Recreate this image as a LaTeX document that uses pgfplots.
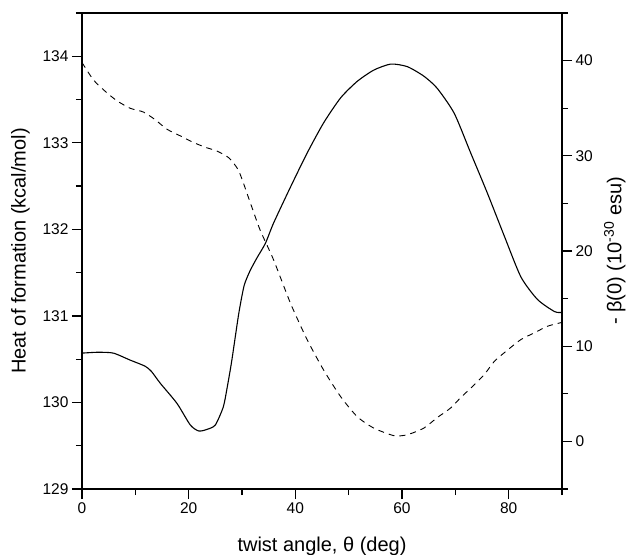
\documentclass[border=0pt]{standalone}
\usepackage{fontspec}
\setmainfont{Liberation Sans}
\usepackage{pgfplots}
\pgfplotsset{compat=1.18}

\pgfplotsset{
  twist/.style={
    scale only axis, width=480pt, height=476pt,
    xmin=0, xmax=90,
    tick align=outside,
    major tick length=10pt, minor tick length=6pt,
    every tick/.style={line width=1.3pt, black},
    axis line style={line width=1.5pt},
    tick label style={font=\fontsize{15.5}{18}\selectfont},
    label style={font=\fontsize{20}{24}\selectfont},
    /pgf/number format/assume math mode=true,
  }
}

\begin{document}
\begin{tikzpicture}
\begin{axis}[
  twist,
  ymin=129, ymax=134.5,
  xtick={0,20,...,80}, minor xtick={10,30,...,90},
  ytick={129,...,134}, minor ytick={129.5,130.5,...,134.5},
  xtick pos=bottom, ytick pos=left,
  yticklabel style={/pgf/number format/.cd, fixed, precision=0},
  xlabel={twist angle, θ (deg)},
  ylabel={Heat of formation (kcal/mol)},
  xlabel style={at={(axis description cs:0.5,-0.12)}, anchor=center},
  ylabel style={at={(axis description cs:-0.128,0.5)}, anchor=center},
]
\addplot[black, line width=1.1pt, smooth, tension=0.4] coordinates {
 (0,130.57)(3,130.58)(5.9,130.57)(9.0,130.49)(11.8,130.42)(13,130.36)
 (14.7,130.22)(17.8,129.99)(20.3,129.74)(21.9,129.67)(23.5,129.69)
 (25.0,129.74)(26.5,129.95)(27.3,130.2)(28.1,130.49)(29.4,131.03)
 (30.4,131.35)(31.5,131.52)(32.8,131.67)(34.4,131.84)(35.9,132.07)
 (39.1,132.49)(42.2,132.88)(45.3,133.23)(48.5,133.52)(51.6,133.71)
 (54.7,133.84)(57.9,133.91)(61.0,133.88)(64.1,133.77)(66.6,133.63)
 (69.8,133.34)(72.9,132.88)(76.0,132.42)(79.2,131.92)(82.3,131.45)
 (85.4,131.19)(88.6,131.05)(90,131.04)};
\end{axis}
\begin{axis}[
  twist,
  ymin=-5, ymax=45,
  axis x line=none, axis y line*=right,
  ytick={0,10,...,40}, minor ytick={-5,5,...,45},
  ylabel={- β(0) (10\textsuperscript{-30} esu)},
  ylabel style={at={(axis description cs:1.11,0.5)}, anchor=center},
]
\addplot[black, line width=0.9pt, dash pattern=on 6pt off 5pt, smooth, tension=0.4] coordinates {
 (0,39.8)(2.1,38.0)(4.3,36.8)(6.5,35.8)(9.0,35.0)(11.5,34.6)(13.7,33.8)
 (15.9,32.8)(18.4,32.1)(20.9,31.4)(23.1,30.9)(25.3,30.5)(27.5,29.8)
 (29.4,28.4)(31.6,25.0)(33.4,22.2)(35.9,19.1)(39.1,14.5)(42.2,10.7)
 (45.3,7.5)(48.5,4.7)(51.6,2.6)(54.7,1.4)(58.5,0.6)(61.0,0.7)(64.1,1.4)
 (66.6,2.5)(69.1,3.5)(71.0,4.6)(72.9,5.6)(75.4,7.0)(77.3,8.4)(79.8,9.6)
 (82.3,10.7)(84.8,11.4)(87.3,12.1)(90,12.5)};
\end{axis}
\pgfresetboundingbox
\useasboundingbox (-82pt,-65pt) rectangle (552pt,489pt);
\end{tikzpicture}
\end{document}
